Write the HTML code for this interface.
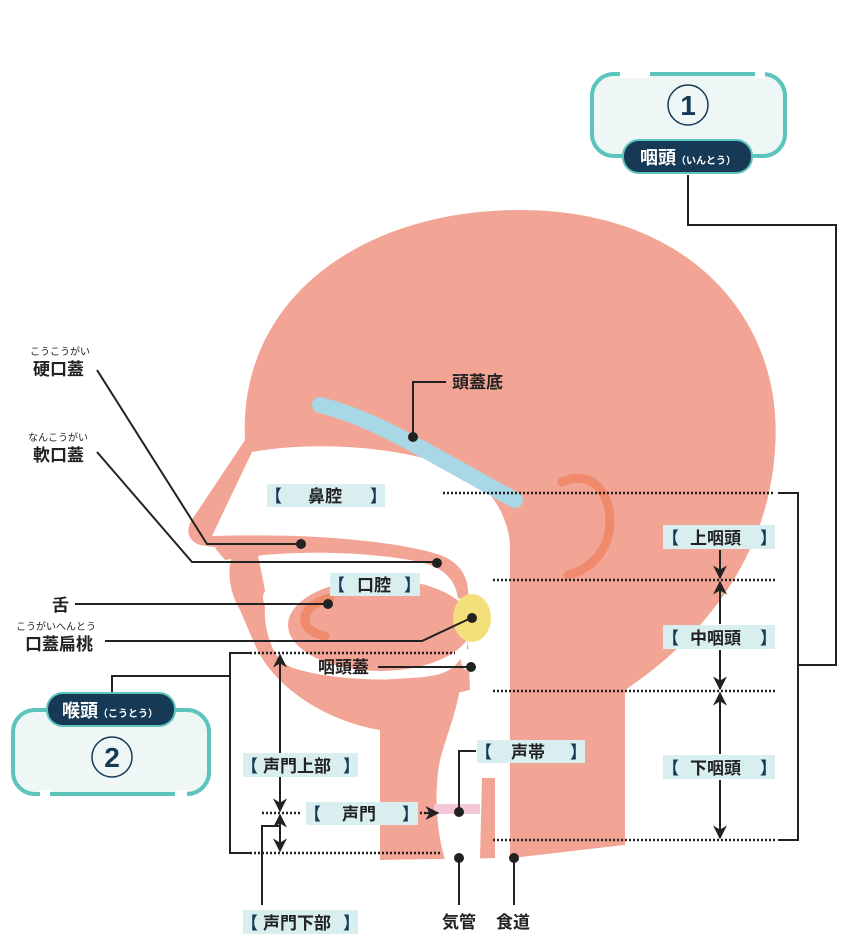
<!DOCTYPE html>
<html><head><meta charset="utf-8"><style>
body{margin:0;background:#fff;}
svg{display:block;font-family:"Liberation Sans","Noto Sans CJK JP",sans-serif;}
.t{font-size:17px;fill:#222;font-weight:bold;}
.r{font-size:10px;fill:#222;}
.lb{fill:#d9eeee;}
.br{fill:#163a56;font-size:17px;font-weight:bold;}
.ln{stroke:#222;stroke-width:2;fill:none;}
.dt{stroke:#222;stroke-width:2.5;stroke-dasharray:2 2;fill:none;}
</style></head><body>
<svg width="850" height="944" viewBox="0 0 850 944" xmlns="http://www.w3.org/2000/svg">
<defs>
<marker id="a" viewBox="0 0 10 10" refX="9" refY="5" markerWidth="7" markerHeight="7" orient="auto-start-reverse"><path d="M0,0 L10,5 L0,10 L3,5 Z" fill="#222"/></marker>
</defs>
<g fill="#f3a595">
<path d="M245,440 C238,300 360,210 520,210 C690,210 785,320 775,450 C768,560 700,640 625,690 L625,845 L513,858 L380,860 L380,730 C330,722 275,690 255,645 L240,610 C228,590 226,565 235,550 L200,545 C186,540 186,528 193,518 Z"/>
</g>
<g fill="#fff">
<path d="M252,452 C320,440 400,448 450,466 C490,482 508,515 510,545 L510,860 L495,860 L495,778 L482,778 L480,860 L445,860 C436,830 434,790 440,760 C448,730 462,700 462,665 L470,600 C468,570 455,556 420,550 C360,536 280,534 212,536 Z"/>
<path d="M258,556 C300,546 400,548 445,562 C468,572 474,590 472,610 C470,650 460,668 440,674 C400,684 320,680 285,665 C268,650 262,620 266,595 Z"/>
<path d="M0,560 L205,560 C212,585 208,610 214,625 C222,640 240,645 255,648 C275,692 330,722 380,732 L380,944 L0,944 Z"/>
<path d="M513,858 L625,845 L850,845 L850,944 L380,944 L380,860 Z"/>
</g>
<path d="M215,548 C280,534 380,536 440,555 C462,563 470,580 468,600 L458,598 C455,580 445,568 420,562 C350,548 270,552 225,560 Z" fill="#f3a595"/>
<ellipse cx="380" cy="625" rx="92" ry="46" fill="#f3a595"/>
<path d="M255,620 C265,660 300,680 350,682 L440,676 C458,672 466,660 468,640 L470,690 C430,700 330,700 290,690 Z" fill="#f3a595"/>
<path d="M330,598 C300,605 295,630 325,636" stroke="#ef8a6c" stroke-width="9" fill="none" stroke-linecap="round"/>
<ellipse cx="267" cy="598" rx="4" ry="8" fill="#fff"/>
<ellipse cx="276" cy="630" rx="4" ry="10" fill="#fff"/>
<path d="M462,648 C480,650 482,665 470,672 C462,670 458,660 462,648 Z" fill="#fff"/>
<ellipse cx="472" cy="618" rx="19" ry="24" fill="#f4e07a"/>
<path d="M320,405 C380,420 440,460 515,500" stroke="#a8d8e6" stroke-width="16" fill="none" stroke-linecap="round"/>
<path d="M562,482 C600,465 620,510 605,545 C595,565 580,572 568,575" stroke="#ef8a6c" stroke-width="9" fill="none" stroke-linecap="round"/>
<rect x="434" y="804" width="46" height="10" fill="#f3c6d8"/>

<path class="dt" d="M443,493 H775 M493,580 H775 M493,691 H775 M493,840 H775"/>
<path class="ln" d="M778,493 H798 V840 H778 M798,665 H836 V225 H688 V175"/>
<path class="ln" d="M720,550 V578" marker-end="url(#a)"/>
<path class="ln" d="M720,624 V582" marker-end="url(#a)"/>
<path class="ln" d="M720,650 V689" marker-end="url(#a)"/>
<path class="ln" d="M720,754 V693" marker-end="url(#a)"/>
<path class="ln" d="M720,780 V838" marker-end="url(#a)"/>
<g>
<rect class="lb" x="663" y="525" width="112" height="24"/><text class="br" x="662" y="544">【</text><text class="br" x="760" y="544">】</text><text class="t" x="690" y="544">上咽頭</text>
<rect class="lb" x="663" y="625" width="112" height="24"/><text class="br" x="662" y="644">【</text><text class="br" x="760" y="644">】</text><text class="t" x="690" y="644">中咽頭</text>
<rect class="lb" x="663" y="755" width="112" height="24"/><text class="br" x="662" y="774">【</text><text class="br" x="760" y="774">】</text><text class="t" x="690" y="774">下咽頭</text>
</g>
<rect x="592" y="74" width="193" height="82" rx="22" fill="#eef7f6" stroke="#5bc4bc" stroke-width="4"/>
<rect x="620" y="72" width="30" height="6" fill="#fff"/><rect x="755" y="72" width="10" height="6" fill="#fff"/>
<circle cx="688" cy="105" r="20" fill="none" stroke="#163a56" stroke-width="1.5"/>
<text x="688" y="115" text-anchor="middle" font-size="28" font-weight="bold" fill="#163a56">1</text>
<rect x="623" y="140" width="129" height="33" rx="16" fill="#163a56" stroke="#5bc4bc" stroke-width="2"/>
<text x="640" y="164" font-size="18" font-weight="bold" fill="#fff">咽頭<tspan font-size="10">（いんとう）</tspan></text>

<path class="dt" d="M250,653 H455 M250,853 H440 M262,813 H300 M420,813 H432"/>
<path class="ln" d="M250,653 H230 V853 H250 M230,676 H112 V692"/>
<path class="ln" d="M280,700 V655" marker-end="url(#a)"/>
<path class="ln" d="M280,700 V811" marker-end="url(#a)"/>
<path class="ln" d="M280,830 V815" marker-end="url(#a)"/>
<path class="ln" d="M280,830 V851" marker-end="url(#a)"/>
<path class="ln" d="M262,905 V826 H280"/>
<path class="ln" d="M424,813 H438" marker-end="url(#a)"/>
<rect x="13" y="710" width="196" height="84" rx="22" fill="#eef7f6" stroke="#5bc4bc" stroke-width="4"/>
<rect x="40" y="790" width="10" height="6" fill="#fff"/><rect x="175" y="790" width="12" height="6" fill="#fff"/>
<rect x="47" y="693" width="128" height="33" rx="16" fill="#163a56" stroke="#5bc4bc" stroke-width="2"/>
<text x="62" y="717" font-size="18" font-weight="bold" fill="#fff">喉頭<tspan font-size="10">（こうとう）</tspan></text>
<circle cx="112" cy="757" r="20" fill="none" stroke="#163a56" stroke-width="1.5"/>
<text x="112" y="767" text-anchor="middle" font-size="28" font-weight="bold" fill="#163a56">2</text>

<rect class="lb" x="267" y="484" width="118" height="23"/><text class="br" x="265" y="502">【</text><text class="br" x="370" y="502">】</text><text class="t" x="308" y="502">鼻腔</text>
<rect class="lb" x="330" y="573" width="90" height="23"/><text class="br" x="328" y="591">【</text><text class="br" x="404" y="591">】</text><text class="t" x="357" y="591">口腔</text>
<rect class="lb" x="243" y="753" width="115" height="24"/><text class="br" x="241" y="772">【</text><text class="br" x="343" y="772">】</text><text class="t" x="263" y="772">声門上部</text>
<rect class="lb" x="243" y="910" width="115" height="24"/><text class="br" x="241" y="929">【</text><text class="br" x="343" y="929">】</text><text class="t" x="263" y="929">声門下部</text>
<rect class="lb" x="306" y="802" width="112" height="23"/><text class="br" x="304" y="820">【</text><text class="br" x="402" y="820">】</text><text class="t" x="342" y="820">声門</text>
<rect class="lb" x="477" y="740" width="108" height="23"/><text class="br" x="475" y="758">【</text><text class="br" x="570" y="758">】</text><text class="t" x="511" y="758">声帯</text>

<g fill="#222">
<path class="ln" d="M413,437 V382 H446"/><circle cx="413" cy="437" r="5"/>
<text class="t" x="452" y="388">頭蓋底</text>
<text class="r" x="30" y="355">こうこうがい</text><text class="t" x="33" y="375">硬口蓋</text>
<path class="ln" d="M97,370 L207,544 H300"/><circle cx="301" cy="544" r="5"/>
<text class="r" x="28" y="441">なんこうがい</text><text class="t" x="33" y="461">軟口蓋</text>
<path class="ln" d="M97,452 L192,562 H436"/><circle cx="437" cy="563" r="5"/>
<text class="t" x="52" y="611">舌</text>
<path class="ln" d="M75,604 H327"/><circle cx="328" cy="604" r="5"/>
<text class="r" x="16" y="630">こうがいへんとう</text><text class="t" x="25" y="650">口蓋扁桃</text>
<path class="ln" d="M105,641 H422 L471,618"/><circle cx="472" cy="618" r="5"/>
<text class="t" x="318" y="673">咽頭蓋</text>
<path class="ln" d="M378,667 H470"/><circle cx="471" cy="667" r="5"/>
<path class="ln" d="M476,751 H459 V812"/><circle cx="459" cy="812" r="5"/>
<circle cx="459" cy="858" r="5"/><path class="ln" d="M459,858 V905"/>
<circle cx="514" cy="858" r="5"/><path class="ln" d="M514,858 V905"/>
<text class="t" x="442" y="928">気管</text><text class="t" x="496" y="928">食道</text>
</g>
</svg>
</body></html>
